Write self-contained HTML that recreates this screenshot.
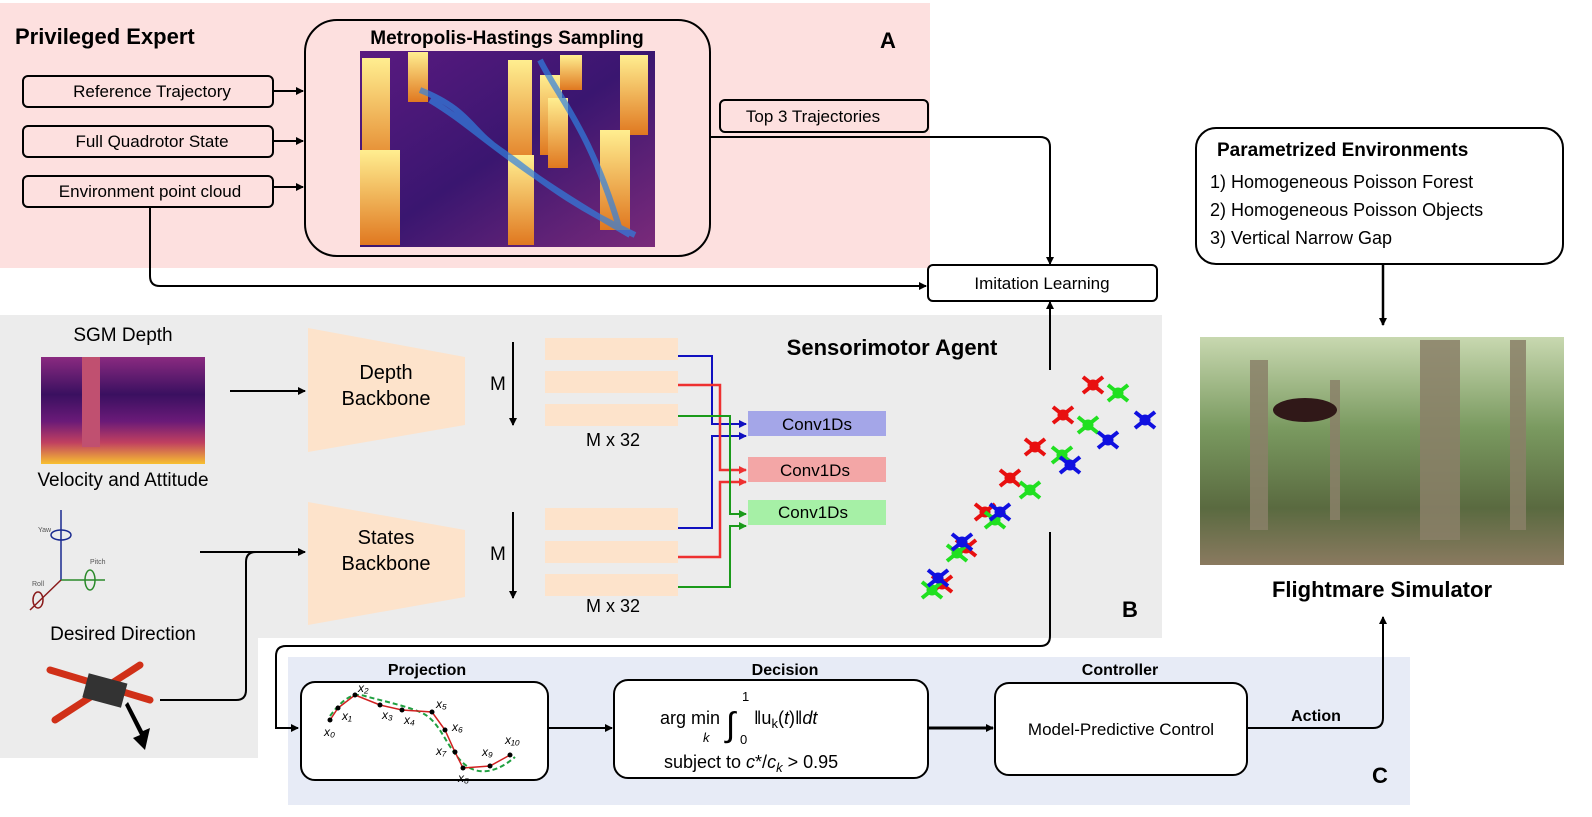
<!DOCTYPE html>
<html><head><meta charset="utf-8"><style>
html,body{margin:0;padding:0;background:#fff}
svg{display:block}
text{font-family:"Liberation Sans",sans-serif}
</style></head><body>
<svg width="1592" height="817" viewBox="0 0 1592 817" xmlns="http://www.w3.org/2000/svg">
<defs>
<marker id="ah" markerWidth="8" markerHeight="8" refX="7" refY="4" orient="auto" markerUnits="userSpaceOnUse"><path d="M0,0 L8,4 L0,8 Z" fill="#000"/></marker>
<marker id="ab" markerWidth="8" markerHeight="8" refX="7" refY="4" orient="auto" markerUnits="userSpaceOnUse"><path d="M0,0 L8,4 L0,8 Z" fill="#1010c0"/></marker>
<marker id="ar" markerWidth="8" markerHeight="8" refX="7" refY="4" orient="auto" markerUnits="userSpaceOnUse"><path d="M0,0 L8,4 L0,8 Z" fill="#ee3030"/></marker>
<marker id="ag" markerWidth="8" markerHeight="8" refX="7" refY="4" orient="auto" markerUnits="userSpaceOnUse"><path d="M0,0 L8,4 L0,8 Z" fill="#1a9a1a"/></marker>
<linearGradient id="mh" x1="0" y1="0" x2="1" y2="1"><stop offset="0" stop-color="#5a1a80"/><stop offset="0.5" stop-color="#3a1670"/><stop offset="1" stop-color="#7a2a7a"/></linearGradient>
<linearGradient id="sgm" x1="0" y1="0" x2="0" y2="1"><stop offset="0" stop-color="#8a2a80"/><stop offset="0.35" stop-color="#3a1060"/><stop offset="0.6" stop-color="#6a1a78"/><stop offset="0.8" stop-color="#c04060"/><stop offset="1" stop-color="#f8c030"/></linearGradient>
<linearGradient id="pil" x1="0" y1="0" x2="0" y2="1"><stop offset="0" stop-color="#ffee90"/><stop offset="1" stop-color="#e07820"/></linearGradient>
<linearGradient id="for" x1="0" y1="0" x2="0" y2="1"><stop offset="0" stop-color="#c8d8b0"/><stop offset="0.4" stop-color="#7a9a60"/><stop offset="0.75" stop-color="#5a6a40"/><stop offset="1" stop-color="#8a7a60"/></linearGradient>
<g id="drone"><path d="M-10,-8 L10,8 M-10,8 L10,-8" stroke-width="4"/><circle r="5"/></g>
</defs>

<rect x="0" y="3" width="930" height="265" fill="#fde0df"/>
<rect x="0" y="315" width="1162" height="323" fill="#ececec"/>
<rect x="0" y="638" width="258" height="120" fill="#ececec"/>
<rect x="288" y="657" width="1122" height="148" fill="#e7ebf6"/>

<text x="15" y="44" font-size="22" font-weight="bold">Privileged Expert</text>
<text x="880" y="48" font-size="22" font-weight="bold">A</text>
<g fill="#fde0df" stroke="#000" stroke-width="2">
<rect x="23" y="76" width="250" height="31" rx="5"/>
<rect x="23" y="126" width="250" height="31" rx="5"/>
<rect x="23" y="176" width="250" height="31" rx="5"/>
<rect x="305" y="20" width="405" height="236" rx="32"/>
<rect x="720" y="100" width="208" height="32" rx="5"/>
</g>
<g font-size="17" text-anchor="middle">
<text x="152" y="97">Reference Trajectory</text>
<text x="152" y="147">Full Quadrotor State</text>
<text x="150" y="197">Environment point cloud</text>
<text x="813" y="122">Top 3 Trajectories</text>
</g>
<text x="507" y="44" font-size="19" font-weight="bold" text-anchor="middle">Metropolis-Hastings Sampling</text>
<rect x="360" y="51" width="295" height="196" fill="url(#mh)"/>
<g fill="url(#pil)">
<rect x="362" y="58" width="28" height="120"/><rect x="408" y="52" width="20" height="50"/>
<rect x="508" y="60" width="24" height="110"/><rect x="540" y="75" width="22" height="80"/>
<rect x="548" y="98" width="20" height="70"/><rect x="620" y="55" width="28" height="80"/>
<rect x="600" y="130" width="30" height="100"/><rect x="508" y="155" width="26" height="90"/>
<rect x="360" y="150" width="40" height="95"/><rect x="560" y="55" width="22" height="35"/>
</g>
<path d="M420,90 C470,110 470,130 500,150 S 560,200 635,235 M430,100 C480,130 500,160 630,235 M540,60 C560,100 590,130 620,230" stroke="#3080e0" stroke-width="6" fill="none" opacity="0.7"/>
<g stroke="#000" stroke-width="2" fill="none">
<line x1="273" y1="91" x2="303" y2="91" marker-end="url(#ah)"/>
<line x1="273" y1="141" x2="303" y2="141" marker-end="url(#ah)"/>
<line x1="273" y1="187" x2="303" y2="187" marker-end="url(#ah)"/>
<path d="M710,137 H1040 Q1050,137 1050,147 V264" marker-end="url(#ah)"/>
<path d="M150,207 V276 Q150,286 160,286 H926" marker-end="url(#ah)"/>
<path d="M1050,370 V302" marker-end="url(#ah)"/>
</g>
<rect x="928" y="265" width="229" height="36" rx="5" fill="#fff" stroke="#000" stroke-width="2"/>
<text x="1042" y="289" font-size="17" text-anchor="middle">Imitation Learning</text>

<rect x="1196" y="128" width="367" height="136" rx="20" fill="#fff" stroke="#000" stroke-width="2"/>
<text x="1217" y="156" font-size="19" font-weight="bold">Parametrized Environments</text>
<g font-size="18"><text x="1210" y="188">1) Homogeneous Poisson Forest</text>
<text x="1210" y="216">2) Homogeneous Poisson Objects</text>
<text x="1210" y="244">3) Vertical Narrow Gap</text></g>
<line x1="1383" y1="264" x2="1383" y2="325" stroke="#000" stroke-width="2.5" marker-end="url(#ah)"/>
<rect x="1200" y="337" width="364" height="228" fill="url(#for)"/>
<g fill="#8a8068" opacity="0.85"><rect x="1420" y="340" width="40" height="200"/><rect x="1250" y="360" width="18" height="170"/><rect x="1330" y="380" width="10" height="140"/><rect x="1510" y="340" width="16" height="190"/></g>
<ellipse cx="1305" cy="410" rx="32" ry="12" fill="#301818"/>
<text x="1382" y="597" font-size="22" font-weight="bold" text-anchor="middle">Flightmare Simulator</text>

<text x="892" y="355" font-size="22" font-weight="bold" text-anchor="middle">Sensorimotor Agent</text>
<text x="1122" y="617" font-size="22" font-weight="bold">B</text>
<g font-size="19" text-anchor="middle">
<text x="123" y="341">SGM Depth</text>
<text x="123" y="486">Velocity and Attitude</text>
<text x="123" y="640">Desired Direction</text>
</g>
<rect x="41" y="357" width="164" height="107" fill="url(#sgm)"/>
<rect x="82" y="357" width="18" height="90" fill="#c05070"/>
<g stroke-width="1.5" fill="none">
<line x1="61" y1="580" x2="61" y2="510" stroke="#1a2a90"/>
<line x1="61" y1="580" x2="105" y2="580" stroke="#2a8a2a"/>
<line x1="61" y1="580" x2="30" y2="610" stroke="#8a1a1a"/>
<ellipse cx="61" cy="535" rx="10" ry="5" stroke="#1a2a90"/>
<ellipse cx="90" cy="580" rx="5" ry="10" stroke="#2a8a2a"/>
<ellipse cx="38" cy="600" rx="5" ry="8" stroke="#8a1a1a"/>
</g>
<g font-size="7" fill="#555"><text x="38" y="532">Yaw</text><text x="90" y="564">Pitch</text><text x="32" y="586">Roll</text></g>
<g stroke="#d03018" stroke-width="7" stroke-linecap="round"><line x1="50" y1="670" x2="150" y2="700"/><line x1="55" y1="720" x2="140" y2="665"/></g>
<rect x="85" y="678" width="40" height="25" fill="#333" transform="rotate(15 105 690)"/>
<path d="M125,705 L140,735 L133,738 L145,750 L150,728 L143,731 L128,702Z" fill="#000"/>

<polygon points="308,328 465,357 465,425 308,452" fill="#fde3cb"/>
<polygon points="308,502 465,530 465,597 308,625" fill="#fde3cb"/>
<g font-size="20" text-anchor="middle"><text x="386" y="379">Depth</text><text x="386" y="405">Backbone</text>
<text x="386" y="544">States</text><text x="386" y="570">Backbone</text></g>
<g fill="#fde3cb">
<rect x="545" y="338" width="133" height="22"/><rect x="545" y="371" width="133" height="22"/><rect x="545" y="404" width="133" height="22"/>
<rect x="545" y="508" width="133" height="22"/><rect x="545" y="541" width="133" height="22"/><rect x="545" y="574" width="133" height="22"/>
</g>
<g font-size="19"><text x="490" y="390">M</text><text x="490" y="560">M</text></g>
<g font-size="18" text-anchor="middle"><text x="613" y="446">M x 32</text><text x="613" y="612">M x 32</text></g>
<g stroke="#000" stroke-width="2" fill="none">
<line x1="513" y1="342" x2="513" y2="425" marker-end="url(#ah)"/>
<line x1="513" y1="512" x2="513" y2="598" marker-end="url(#ah)"/>
<line x1="230" y1="391" x2="305" y2="391" marker-end="url(#ah)"/>
<line x1="200" y1="552" x2="305" y2="552" marker-end="url(#ah)"/>
<path d="M160,700 H236 Q246,700 246,690 V562 Q246,552 256,552"/>
</g>
<rect x="748" y="411" width="138" height="25" fill="#a4a6e8"/>
<rect x="748" y="457" width="138" height="25" fill="#f3a6a6"/>
<rect x="748" y="500" width="138" height="25" fill="#a6f0a6"/>
<g font-size="17" text-anchor="middle"><text x="817" y="430">Conv1Ds</text><text x="815" y="476">Conv1Ds</text><text x="813" y="518">Conv1Ds</text></g>
<g fill="none" stroke-width="2">
<path d="M678,356 H712 V424 H746" stroke="#1010c0" marker-end="url(#ab)"/>
<path d="M678,528 H712 V436 H746" stroke="#1010c0" marker-end="url(#ab)"/>
<path d="M678,385 H720 V470 H746" stroke="#ee3030" stroke-width="2.5" marker-end="url(#ar)"/>
<path d="M678,557 H720 V482 H746" stroke="#ee3030" stroke-width="2.5" marker-end="url(#ar)"/>
<path d="M678,416 H730 V514 H746" stroke="#1a9a1a" marker-end="url(#ag)"/>
<path d="M678,587 H730 V526 H746" stroke="#1a9a1a" marker-end="url(#ag)"/>
</g>
<g fill="#e81010" stroke="#e81010"><use href="#drone" x="1093" y="385"/><use href="#drone" x="1063" y="415"/><use href="#drone" x="1035" y="447"/><use href="#drone" x="1010" y="478"/><use href="#drone" x="985" y="512"/><use href="#drone" x="966" y="548"/><use href="#drone" x="942" y="584"/></g>
<g fill="#20e020" stroke="#20e020"><use href="#drone" x="1118" y="393"/><use href="#drone" x="1088" y="425"/><use href="#drone" x="1062" y="455"/><use href="#drone" x="1030" y="490"/><use href="#drone" x="995" y="520"/><use href="#drone" x="957" y="553"/><use href="#drone" x="932" y="590"/></g>
<g fill="#1010e0" stroke="#1010e0"><use href="#drone" x="1145" y="420"/><use href="#drone" x="1108" y="440"/><use href="#drone" x="1070" y="465"/><use href="#drone" x="1000" y="512"/><use href="#drone" x="962" y="542"/><use href="#drone" x="938" y="578"/></g>

<path d="M1050,532 V636 Q1050,646 1040,646 H286 Q276,646 276,656 V728 H298" fill="none" stroke="#000" stroke-width="2" marker-end="url(#ah)"/>
<g font-size="16" font-weight="bold" text-anchor="middle"><text x="427" y="675">Projection</text><text x="785" y="675">Decision</text><text x="1120" y="675">Controller</text><text x="1316" y="721">Action</text></g>
<text x="1372" y="783" font-size="22" font-weight="bold">C</text>
<g fill="#fff" stroke="#000" stroke-width="2">
<rect x="301" y="682" width="247" height="98" rx="14"/>
<rect x="614" y="680" width="314" height="98" rx="14"/>
<rect x="995" y="683" width="252" height="92" rx="14"/>
</g>
<g stroke="#000" stroke-width="2" fill="none">
<line x1="548" y1="728" x2="612" y2="728" marker-end="url(#ah)"/>
<line x1="928" y1="728" x2="993" y2="728" stroke-width="3" marker-end="url(#ah)"/>
<path d="M1247,728 H1373 Q1383,728 1383,718 V617" marker-end="url(#ah)"/>
</g>
<text x="1121" y="735" font-size="17" text-anchor="middle">Model-Predictive Control</text>
<g font-family="Liberation Serif,serif" font-size="18">
<text x="660" y="724">arg min</text>
<text x="703" y="742" font-size="13" font-style="italic">k</text>
<text x="726" y="736" font-size="34">∫</text>
<text x="742" y="701" font-size="13">1</text>
<text x="740" y="744" font-size="13">0</text>
<text x="754" y="724">‖u<tspan font-size="13" dy="4">k</tspan><tspan dy="-4">(</tspan><tspan font-style="italic">t</tspan>)‖<tspan font-style="italic">dt</tspan></text>
<text x="664" y="768">subject to <tspan font-style="italic">c</tspan>*/<tspan font-style="italic">c</tspan><tspan font-size="13" font-style="italic" dy="4">k</tspan><tspan dy="-4"> &gt; 0.95</tspan></text>
</g>
<path d="M330,716 C342,700 352,692 365,696 S400,704 420,712 S445,745 462,762 S500,770 515,757" stroke="#20a040" stroke-width="2" stroke-dasharray="5,3" fill="none"/>
<polyline points="330,720 338,708 355,695 380,705 402,710 432,712 445,730 455,752 463,768 490,766 510,755" stroke="#d02020" stroke-width="1.5" fill="none"/>
<g fill="#000"><circle cx="330" cy="720" r="2.5"/><circle cx="338" cy="708" r="2.5"/><circle cx="355" cy="695" r="2.5"/><circle cx="380" cy="705" r="2.5"/><circle cx="402" cy="710" r="2.5"/><circle cx="432" cy="712" r="2.5"/><circle cx="445" cy="730" r="2.5"/><circle cx="455" cy="752" r="2.5"/><circle cx="463" cy="768" r="2.5"/><circle cx="490" cy="766" r="2.5"/><circle cx="510" cy="755" r="2.5"/></g>
<g font-family="Liberation Serif,serif" font-style="italic" font-size="12"><text x="324" y="736">x₀</text><text x="342" y="720">x₁</text><text x="358" y="692">x₂</text><text x="382" y="719">x₃</text><text x="404" y="724">x₄</text><text x="436" y="708">x₅</text><text x="452" y="731">x₆</text><text x="436" y="755">x₇</text><text x="458" y="782">x₈</text><text x="482" y="756">x₉</text><text x="505" y="744">x₁₀</text></g>
</svg>
</body></html>
